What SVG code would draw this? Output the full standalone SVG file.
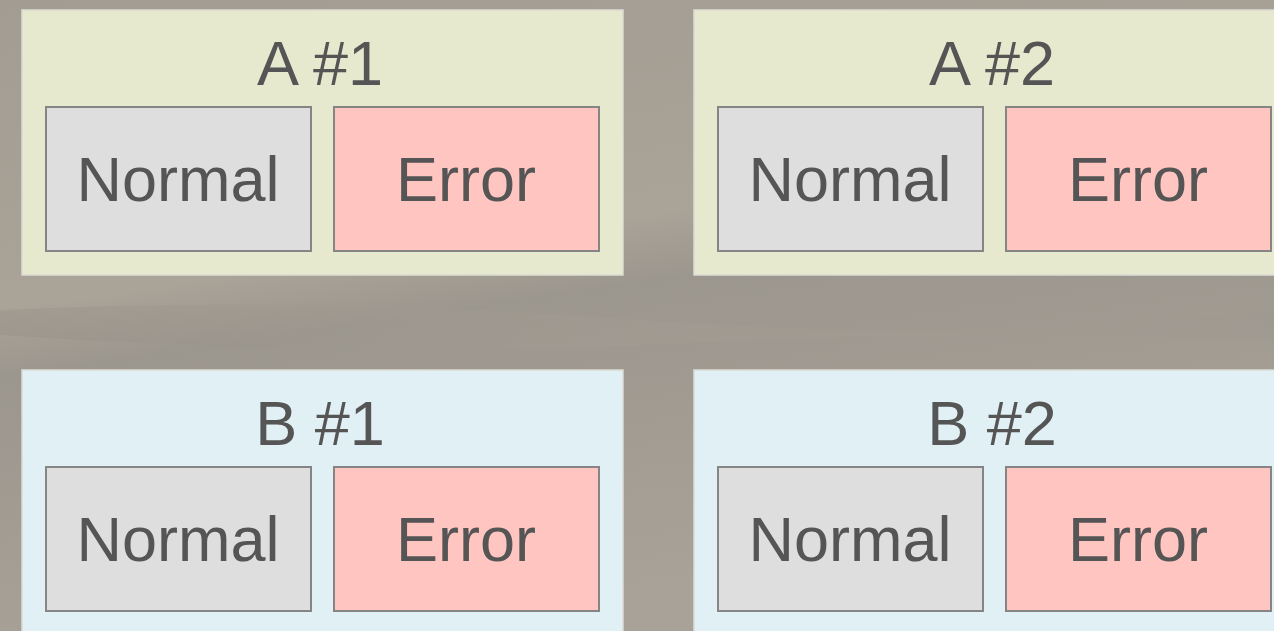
<svg xmlns="http://www.w3.org/2000/svg" width="1274" height="631" viewBox="0 0 1274 631">
<defs>
<linearGradient id="bg" x1="0" y1="0" x2="0.3" y2="1">
<stop offset="0" stop-color="#a29c92"/>
<stop offset="0.45" stop-color="#a9a398"/>
<stop offset="0.55" stop-color="#9c978e"/>
<stop offset="1" stop-color="#a8a298"/>
</linearGradient>
<linearGradient id="streak" x1="0" y1="0" x2="1" y2="0">
<stop offset="0" stop-color="#8f8a82" stop-opacity="0.3"/>
<stop offset="0.5" stop-color="#a9a398" stop-opacity="0.2"/>
<stop offset="1" stop-color="#9c978e" stop-opacity="0.3"/>
</linearGradient>
</defs>
<style>
.a{fill:#e6e9cd;stroke:#dcdcd4;stroke-width:1.5}
.b{fill:#e1f0f5;stroke:#dcdcd4;stroke-width:1.5}
.n{fill:#dedede;stroke:#858585;stroke-width:2}
.e{fill:#ffc5c0;stroke:#858585;stroke-width:2}
text{font-family:"Liberation Sans",Arial,sans-serif;font-size:63px;fill:#555555;text-anchor:middle}
</style>
<rect x="0" y="0" width="1274" height="631" fill="url(#bg)"/>
<path d="M0 310 Q300 295 640 320 T1274 310 L1274 340 Q900 330 640 345 T0 335 Z" fill="url(#streak)"/>
<g id="A1">
<rect class="a" x="22" y="10" width="601" height="265"/>
<text x="320" y="85">A #1</text>
<g id="A1-normal"><rect class="n" x="46" y="107" width="265" height="144"/><text x="178" y="201">Normal</text></g>
<g id="A1-error"><rect class="e" x="334" y="107" width="265" height="144"/><text x="466" y="201">Error</text></g>
</g>
<g id="A2">
<rect class="a" x="694" y="10" width="601" height="265"/>
<text x="992" y="85">A #2</text>
<g id="A2-normal"><rect class="n" x="718" y="107" width="265" height="144"/><text x="850" y="201">Normal</text></g>
<g id="A2-error"><rect class="e" x="1006" y="107" width="265" height="144"/><text x="1138" y="201">Error</text></g>
</g>
<g id="B1">
<rect class="b" x="22" y="370" width="601" height="275"/>
<text x="320" y="445">B #1</text>
<g id="B1-normal"><rect class="n" x="46" y="467" width="265" height="144"/><text x="178" y="561">Normal</text></g>
<g id="B1-error"><rect class="e" x="334" y="467" width="265" height="144"/><text x="466" y="561">Error</text></g>
</g>
<g id="B2">
<rect class="b" x="694" y="370" width="601" height="275"/>
<text x="992" y="445">B #2</text>
<g id="B2-normal"><rect class="n" x="718" y="467" width="265" height="144"/><text x="850" y="561">Normal</text></g>
<g id="B2-error"><rect class="e" x="1006" y="467" width="265" height="144"/><text x="1138" y="561">Error</text></g>
</g>
<g id="connectors"/>
</svg>
